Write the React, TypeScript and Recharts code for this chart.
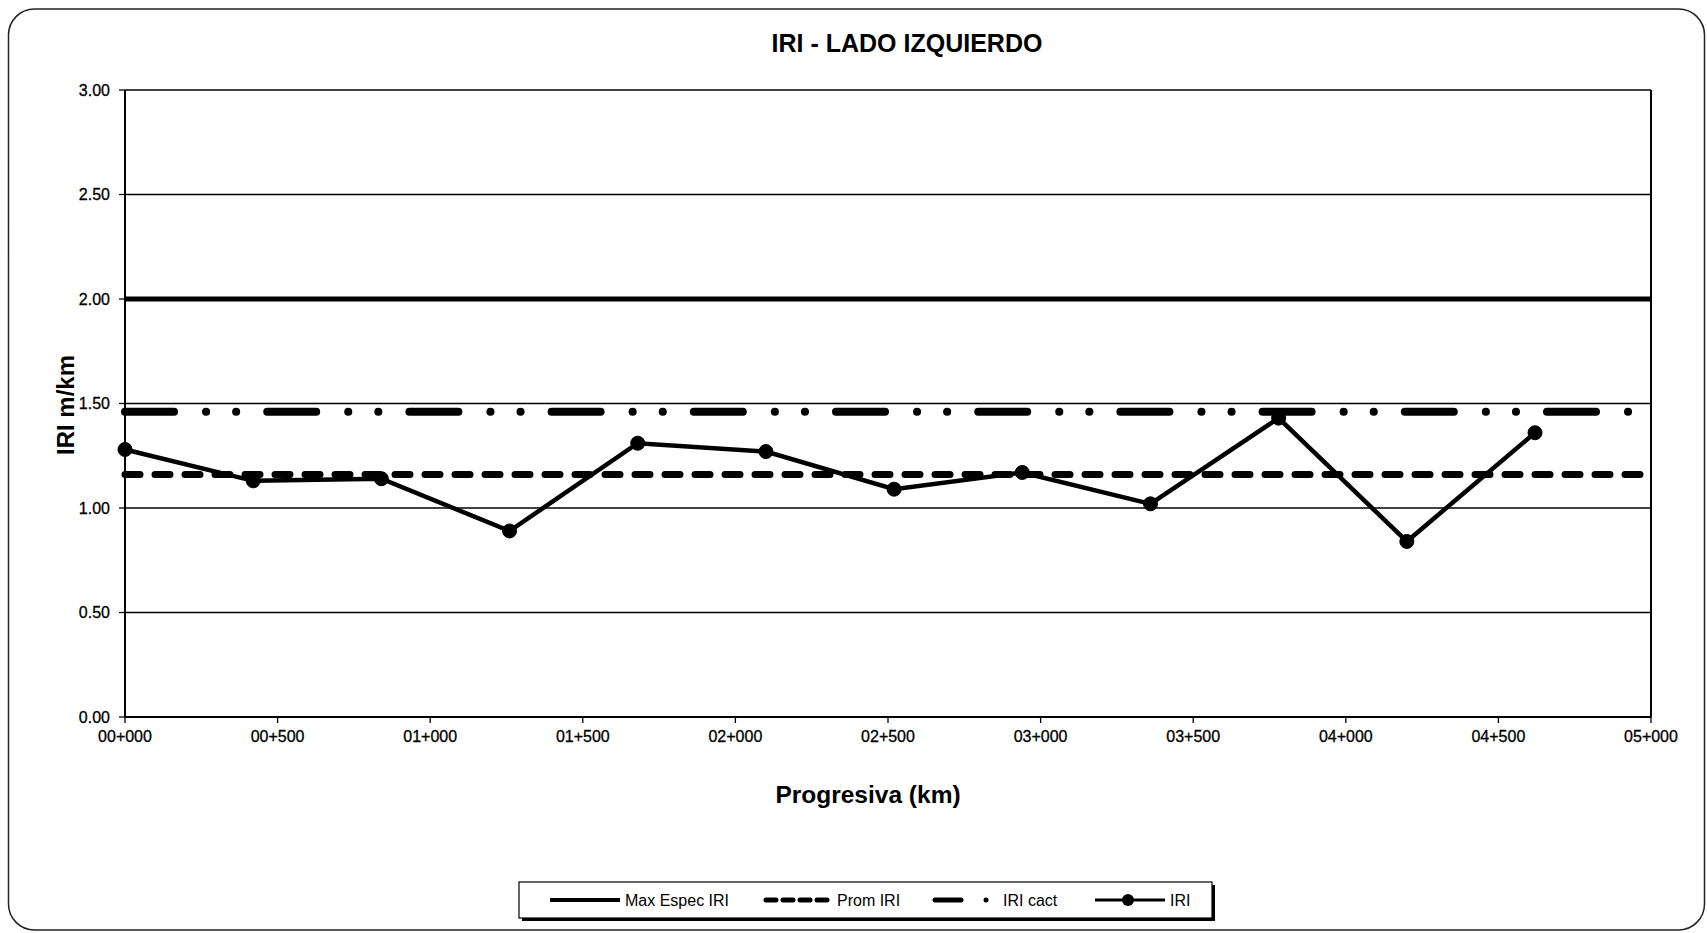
import React from 'react';
import { LineChart, Line, XAxis, YAxis, CartesianGrid, ReferenceLine } from 'recharts';

// progresiva (m) and IRI values
const progresiva = [0, 420, 840, 1260, 1680, 2100, 2520, 2940, 3360, 3780, 4200, 4620];
const iri = [1.28, 1.13, 1.14, 0.89, 1.31, 1.27, 1.09, 1.17, 1.02, 1.43, 0.84, 1.36];

// horizontal reference series, drawn across the whole section
const lineEnds = [0, 5000];
const maxEspecIri = 2.0;
const promIri = 1.16;
const iriCact = 1.46;

const yTicks = [0, 0.5, 1, 1.5, 2, 2.5, 3];
const xTicks = [0, 500, 1000, 1500, 2000, 2500, 3000, 3500, 4000, 4500, 5000];
const xTickLabels = ['00+000', '00+500', '01+000', '01+500', '02+000', '02+500', '03+000', '03+500', '04+000', '04+500', '05+000'];

const FONT = '"Liberation Sans", Arial, sans-serif';

const iriData = progresiva.map((x, i) => ({ x, iri: iri[i] }));
const refData = lineEnds.map((x) => ({ x, max: maxEspecIri, prom: promIri, cact: iriCact }));

const tickStyle = { fill: '#000', fontSize: 16, fontFamily: FONT, stroke: '#000', strokeWidth: 0.3 };

const Overlay = () => (
  <svg width={1707} height={933} style={{ position: 'absolute', left: 0, top: 0, pointerEvents: 'none' }}>
    <rect x={8.5} y={9} width={1696} height={921} rx={26} fill="none" stroke="#222" strokeWidth={1.5} />
    <text x={907} y={52} textAnchor="middle" fontFamily={FONT} fontWeight="bold" fontSize={25} fill="#000">
      IRI - LADO IZQUIERDO
    </text>
    <text x={868} y={803} textAnchor="middle" fontFamily={FONT} fontWeight="bold" fontSize={24.5} fill="#000">
      Progresiva (km)
    </text>
    <text
      x={0}
      y={0}
      transform="translate(74 405) rotate(-90)"
      textAnchor="middle"
      fontFamily={FONT}
      fontWeight="bold"
      fontSize={24}
      fill="#000"
    >
      IRI m/km
    </text>

    {/* legend */}
    <rect x={522} y={885} width={693} height={36} fill="#000" />
    <rect x={519} y={882} width={693} height={36} fill="#fff" stroke="#000" strokeWidth={1.2} />
    <g fontFamily={FONT} fontSize={16} fill="#000">
      <line x1={550} y1={900} x2={620} y2={900} stroke="#000" strokeWidth={4} />
      <text x={625} y={906}>Max Espec IRI</text>
      <line x1={766} y1={900} x2={832} y2={900} stroke="#000" strokeWidth={5} strokeDasharray="10 7" strokeLinecap="round" />
      <text x={837} y={906}>Prom IRI</text>
      <line x1={935} y1={900} x2={961} y2={900} stroke="#000" strokeWidth={5} strokeLinecap="round" />
      <circle cx={986} cy={900} r={2.5} fill="#000" />
      <text x={1003} y={906}>IRI cact</text>
      <line x1={1095} y1={900} x2={1165} y2={900} stroke="#000" strokeWidth={3} />
      <circle cx={1128} cy={900} r={6} fill="#000" />
      <text x={1170} y={906}>IRI</text>
    </g>
  </svg>
);

export default function App() {
  return (
    <div style={{ position: 'absolute', left: 0, top: 0, width: 1707, height: 933, background: '#fff' }}>
      <LineChart width={1707} height={933} margin={{ top: 90, right: 56, bottom: 186, left: 65 }}>
        <CartesianGrid vertical={false} stroke="#000" strokeWidth={1.6} />
        <XAxis
          dataKey="x"
          type="number"
          domain={[0, 5000]}
          ticks={xTicks}
          interval={0}
          height={30}
          tickFormatter={(v) => xTickLabels[xTicks.indexOf(v)]}
          tick={tickStyle}
          tickSize={6}
          tickMargin={8}
          axisLine={{ stroke: '#000', strokeWidth: 2 }}
          tickLine={{ stroke: '#000', strokeWidth: 1.3 }}
        />
        <YAxis
          type="number"
          domain={[0, 3]}
          ticks={yTicks}
          interval={0}
          width={60}
          tickFormatter={(v) => v.toFixed(2)}
          tick={tickStyle}
          tickSize={6}
          tickMargin={9}
          axisLine={{ stroke: '#000', strokeWidth: 2 }}
          tickLine={{ stroke: '#000', strokeWidth: 1.3 }}
        />
        <ReferenceLine x={5000} stroke="#000" strokeWidth={2} />
        <Line
          data={refData}
          dataKey="max"
          name="Max Espec IRI"
          stroke="#000"
          strokeWidth={5}
          dot={false}
          isAnimationActive={false}
        />
        <Line
          data={refData}
          dataKey="prom"
          name="Prom IRI"
          stroke="#000"
          strokeWidth={7}
          strokeDasharray="15 15"
          strokeLinecap="round"
          dot={false}
          isAnimationActive={false}
        />
        <Line
          data={refData}
          dataKey="cact"
          name="IRI cact"
          stroke="#000"
          strokeWidth={8}
          strokeDasharray="49 32 0.1 30 0.1 31"
          strokeLinecap="round"
          dot={false}
          isAnimationActive={false}
        />
        <Line
          data={iriData}
          dataKey="iri"
          name="IRI"
          stroke="#000"
          strokeWidth={4.5}
          dot={{ r: 7, fill: '#000', stroke: '#000', strokeWidth: 1 }}
          isAnimationActive={false}
        />
      </LineChart>
      <Overlay />
    </div>
  );
}
